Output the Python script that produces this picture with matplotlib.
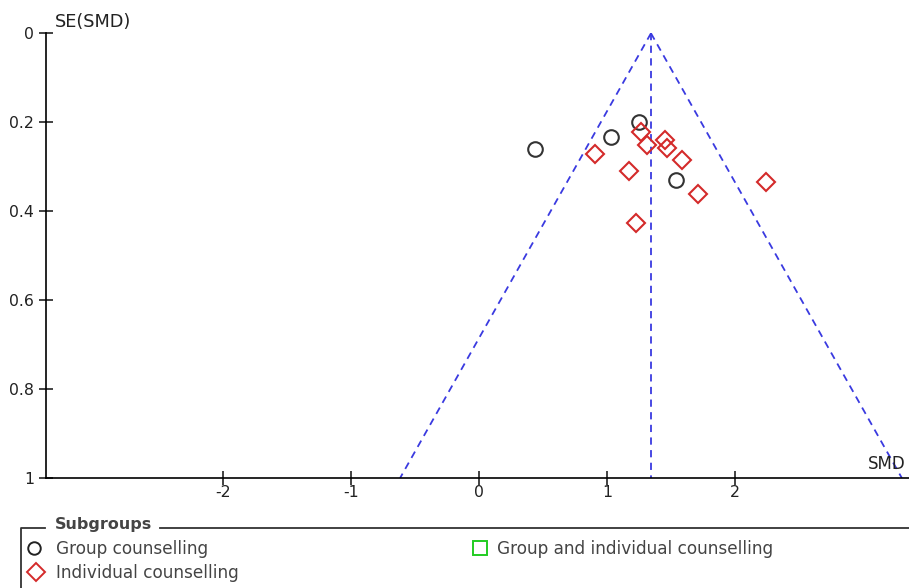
import matplotlib
matplotlib.use('Agg')
import matplotlib.pyplot as plt
import numpy as np

plt.rcParams['font.family'] = ['DejaVu Sans']

# study estimates (SMD, SE)
group_smd = [0.44, 1.03, 1.25, 1.54]
group_se = [0.261, 0.233, 0.199, 0.331]

indiv_smd = [0.91, 1.17, 1.27, 1.31, 1.45, 1.47, 1.59, 1.71, 2.24, 1.23]
indiv_se = [0.271, 0.309, 0.221, 0.251, 0.239, 0.257, 0.286, 0.362, 0.334, 0.426]

pooled_smd = 1.344
x_ticks = [-2, -1, 0, 1, 2]
y_ticks = [0, 0.2, 0.4, 0.6, 0.8, 1]
y_labels = ['0', '0.2', '0.4', '0.6', '0.8', '1']
legend_labels = ['Group counselling', 'Individual counselling', 'Group and individual counselling']

W, H = 909, 588
fig = plt.figure(figsize=(W / 100, H / 100), dpi=100)

# main funnel axes
left_px, right_px, top_px, bot_px = 45.7, 909, 33.3, 478
ax = fig.add_axes([left_px / W, 1 - bot_px / H, (right_px - left_px) / W, (bot_px - top_px) / H])
ax.set_xlim(-3.385, 3.36)
ax.set_ylim(1, 0)
for s in ['top', 'right']:
    ax.spines[s].set_visible(False)
ax.spines['left'].set_linewidth(1.2)
ax.spines['bottom'].set_linewidth(1.2)
ax.set_xticks(x_ticks)
ax.set_xticklabels([str(t) for t in x_ticks])
ax.set_yticks(y_ticks)
ax.set_yticklabels(y_labels)
ax.tick_params(direction='inout', length=9.5, width=1.2, labelsize=11.3, colors='#222222')
ax.tick_params(axis='x', pad=0.5)
ax.tick_params(axis='y', pad=3.5)

# funnel lines
se_line = np.array([0, 1])
blue = '#3a3ae0'
ax.plot([pooled_smd, pooled_smd], [0, 1], ls=(0, (4, 3)), color=blue, lw=1.3)
ax.plot(pooled_smd - 1.96 * se_line, se_line, ls=(0, (4, 3)), color=blue, lw=1.3)
ax.plot(pooled_smd + 1.96 * se_line, se_line, ls=(0, (4, 3)), color=blue, lw=1.3)

ax.plot(group_smd, group_se, 'o', ms=10.5, mfc='none', mec='#333333', mew=1.5)
ax.plot(indiv_smd, indiv_se, 'D', ms=9.5, mfc='none', mec='#d42a2a', mew=1.5)

fig.text(55 / W, 1 - 22 / H, 'SE(SMD)', fontsize=12.8, va='center', ha='left', color='#222222')
fig.text(906 / W, 1 - 464 / H, 'SMD', fontsize=12, va='center', ha='right', color='#222222')

# legend panel drawn in pixel coordinates
lax = fig.add_axes([0, 0, 1, 1 - 500 / H])
lax.set_xlim(0, W)
lax.set_ylim(H, 500)
lax.axis('off')
frame_c = '#333333'
text_c = '#444444'
lax.plot([20.7, 20.7, 45], [H + 5, 527.5, 527.5], color=frame_c, lw=1.3)
lax.plot([160, W + 5], [527.5, 527.5], color=frame_c, lw=1.3)
lax.text(55, 525, 'Subgroups', fontsize=11.5, fontweight='bold', va='center', ha='left', color=text_c)
lax.plot([33.5], [548], 'o', ms=9, mfc='none', mec='#222222', mew=1.4)
lax.text(56, 549, legend_labels[0], fontsize=12.2, va='center', ha='left', color=text_c)
lax.plot([35.5], [571.7], 'D', ms=9.5, mfc='none', mec='#d42a2a', mew=1.4)
lax.text(56, 573, legend_labels[1], fontsize=12.2, va='center', ha='left', color=text_c)
lax.plot([479.7], [547.5], 's', ms=10, mfc='none', mec='#22cc22', mew=1.4)
lax.text(497, 548.5, legend_labels[2], fontsize=12.2, va='center', ha='left', color=text_c)

fig.savefig('out.png', dpi=100, facecolor='white')
